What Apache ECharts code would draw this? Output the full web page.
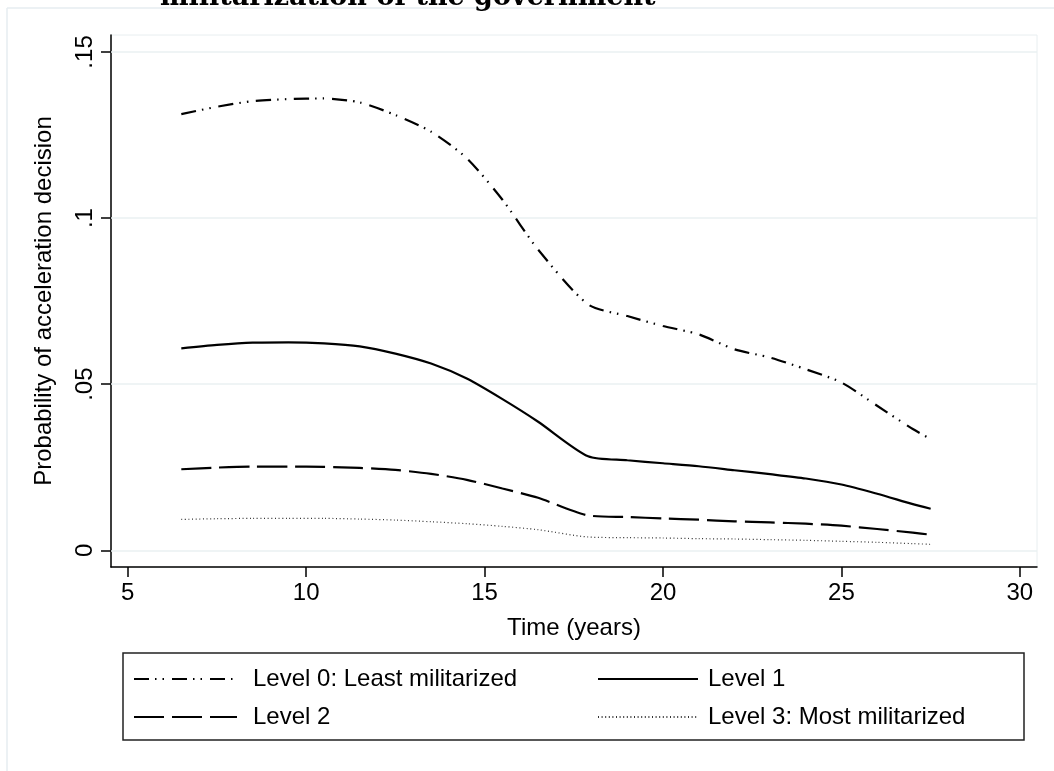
<!DOCTYPE html>
<html>
<head>
<meta charset="utf-8">
<script src="https://cdn.jsdelivr.net/npm/echarts@6/dist/echarts.min.js"></script>
<style>
html,body{margin:0;padding:0;background:#fff;}
#chart{width:1054px;height:771px;}
</style>
</head>
<body>
<div id="chart"></div>
<script>
const titleText = 'militarization of the government';
const xAxisName = 'Time (years)';
const yAxisName = 'Probability of acceleration decision';
const xTickValues = [5, 10, 15, 20, 25, 30];
const yTickValues = [0, 0.05, 0.1, 0.15];
const yTickLabels = ['0', '.05', '.1', '.15'];
const seriesNames = ['Level 0: Least militarized', 'Level 1', 'Level 2', 'Level 3: Most militarized'];
const timeYears = [6.5, 7.5, 8.5, 9.5, 10.5, 11.5, 12.5, 13.5, 14.5, 15.5, 16.5, 17.9, 19, 20, 21, 22, 23, 24, 25, 26, 27, 27.5];
const level0 = [0.1313, 0.1335, 0.1352, 0.1358, 0.1360, 0.1348, 0.1310, 0.1260, 0.1180, 0.1055, 0.0905, 0.0740, 0.0705, 0.0675, 0.0650, 0.0605, 0.0580, 0.0545, 0.0505, 0.0435, 0.0365, 0.0335];
const level1 = [0.0608, 0.0618, 0.0625, 0.0626, 0.0623, 0.0614, 0.0592, 0.0562, 0.0517, 0.0455, 0.0387, 0.0283, 0.0271, 0.0262, 0.0253, 0.0241, 0.0229, 0.0216, 0.0198, 0.0170, 0.0139, 0.0125];
const level2 = [0.0244, 0.0249, 0.0252, 0.0252, 0.0251, 0.0248, 0.0242, 0.0230, 0.0212, 0.0186, 0.0158, 0.0105, 0.0100, 0.0096, 0.0092, 0.0087, 0.0084, 0.0080, 0.0074, 0.0064, 0.0053, 0.0047];
const level3 = [0.0093, 0.0095, 0.0096, 0.0096, 0.0096, 0.0094, 0.0091, 0.0086, 0.0080, 0.0072, 0.0062, 0.0040, 0.0038, 0.0037, 0.0035, 0.0034, 0.0032, 0.0030, 0.0027, 0.0024, 0.0020, 0.0018];

const allLevels = [level0, level1, level2, level3];
const lineStyles = [
  {color: '#000', width: 2.2, type: [15, 6, 1.5, 6, 1.5, 8]},
  {color: '#000', width: 2.2, type: 'solid'},
  {color: '#000', width: 2.2, type: [30, 8]},
  {color: '#333', width: 1.2, type: [1, 2.6]}
];
const FONT = 'Liberation Sans, Arial, Helvetica, sans-serif';

const chart = echarts.init(document.getElementById('chart'), null, {renderer: 'canvas'});

const series = allLevels.map((vals, i) => ({
  name: seriesNames[i],
  type: 'line',
  data: timeYears.map((t, j) => [t, vals[j]]),
  symbol: 'none',
  smooth: 0.25,
  lineStyle: lineStyles[i],
  itemStyle: {color: lineStyles[i].color},
  emphasis: {disabled: true},
  z: 5
}));
series[0].markLine = {
  silent: true, symbol: 'none', label: {show: false},
  lineStyle: {color: '#eaf0f2', width: 1.5, type: 'solid'},
  data: yTickValues.map(v => ({yAxis: v})),
  z: 1
};

const legendPos = [
  {left: 133, top: 667},
  {left: 597, top: 667},
  {left: 133, top: 705},
  {left: 597, top: 705}
];
const legends = seriesNames.map((n, i) => ({
  data: [n],
  left: legendPos[i].left,
  top: legendPos[i].top,
  orient: 'horizontal',
  padding: 0,
  itemWidth: i % 2 === 0 ? 103 : 100,
  itemHeight: 14,
  selectedMode: false,
  itemStyle: {opacity: 0, borderWidth: 0},
  textStyle: {fontFamily: FONT, fontSize: 24, color: '#000', padding: [0, 0, 0, i % 2 === 0 ? 11 : 5]}
}));

chart.setOption({
  animation: false,
  backgroundColor: '#fff',
  title: {
    text: titleText,
    left: 160,
    top: -16,
    padding: 0,
    textStyle: {fontFamily: 'DejaVu Serif, serif', fontWeight: 'bold', fontSize: 27, color: '#000'}
  },
  grid: {
    left: 111, top: 35, right: 17, bottom: 204,
    show: true, borderColor: '#e8eef0', borderWidth: 1
  },
  legend: legends,
  xAxis: {
    type: 'value',
    min: 4.53, max: 30.48,
    name: xAxisName,
    nameLocation: 'middle',
    nameGap: 49,
    nameTextStyle: {fontFamily: FONT, fontSize: 24, color: '#000'},
    axisLine: {show: true, onZero: false, lineStyle: {color: '#000', width: 1.5}},
    axisTick: {show: true, length: 10, lineStyle: {color: '#000', width: 1.5}, customValues: xTickValues},
    axisLabel: {fontFamily: FONT, fontSize: 24, color: '#000', margin: 14, customValues: xTickValues},
    splitLine: {show: false}
  },
  yAxis: {
    type: 'value',
    min: -0.00503, max: 0.1551,
    name: yAxisName,
    nameLocation: 'middle',
    nameGap: 55,
    nameTextStyle: {fontFamily: FONT, fontSize: 24, color: '#000'},
    axisLine: {show: true, onZero: false, lineStyle: {color: '#000', width: 1.5}},
    axisTick: {show: true, length: 10, lineStyle: {color: '#000', width: 1.5}, customValues: yTickValues},
    axisLabel: {
      fontFamily: FONT, fontSize: 24, color: '#000', margin: 14, rotate: 90,
      customValues: yTickValues,
      formatter: v => { const k = yTickValues.findIndex(t => Math.abs(t - v) < 1e-9); return k >= 0 ? yTickLabels[k] : ''; }
    },
    splitLine: {show: false}
  },
  graphic: [
    {type: 'line', shape: {x1: 7, y1: 8, x2: 1054, y2: 8}, style: {stroke: '#e6edf0', lineWidth: 1.5}, silent: true},
    {type: 'line', shape: {x1: 7, y1: 8, x2: 7, y2: 771}, style: {stroke: '#e6edf0', lineWidth: 1.5}, silent: true},
    {type: 'rect', shape: {x: 123, y: 653, width: 901, height: 87}, style: {fill: 'none', stroke: '#222', lineWidth: 1.5}, silent: true, z: 10}
  ],
  series: series
});
</script>
</body>
</html>
